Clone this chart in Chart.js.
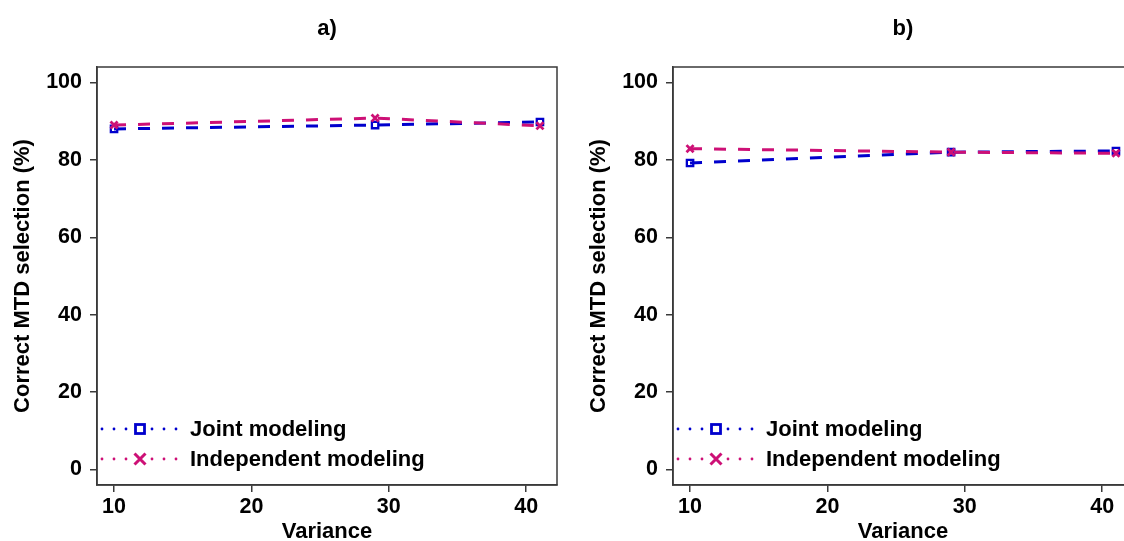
<!DOCTYPE html>
<html>
<head>
<meta charset="utf-8">
<script src="https://cdn.jsdelivr.net/npm/chart.js@4.4.1/dist/chart.umd.min.js"></script>
<style>
  html, body { margin: 0; padding: 0; background: #fff; overflow: hidden; width: 1124px; height: 541px; }
  #wrapA { position: absolute; left: 0; top: 0; width: 562px; height: 541px; }
  #wrapB { position: absolute; left: 562px; top: 0; width: 576px; height: 541px; }
</style>
</head>
<body>
<div id="wrapA"><canvas id="chartA" width="562" height="541"></canvas></div>
<div id="wrapB"><canvas id="chartB" width="576" height="541"></canvas></div>
<script>
// ---- data ----
const variance = [10, 29, 41];
const jointA = [88.0, 89.0, 89.8];
const indepA = [89.0, 90.8, 88.8];
const jointB = [79.2, 82.0, 82.3];
const indepB = [82.9, 82.0, 81.7];
const xTicks = [10, 20, 30, 40];
const yTicks = [0, 20, 40, 60, 80, 100];
const panelTitles = ['a)', 'b)'];
const seriesNames = ['Joint modeling', 'Independent modeling'];
const xTitle = 'Variance';
const yTitle = 'Correct MTD selection (%)';

const BLUE = '#0000CD';
const MAG = '#CD1076';
const AXIS = '#3a3a3a';
const FONT = '"Liberation Sans", Arial, Helvetica, sans-serif';

const decorPlugin = {
  id: 'decor',
  afterDraw(chart, args, opts) {
    const ctx = chart.ctx;
    const a = chart.chartArea;
    ctx.save();
    // box
    ctx.strokeStyle = AXIS;
    ctx.lineWidth = 1.5;
    ctx.strokeRect(a.left, a.top, a.right - a.left, a.bottom - a.top);
    // panel title
    ctx.fillStyle = '#000';
    ctx.font = 'bold 22px ' + FONT;
    ctx.textAlign = 'center';
    ctx.textBaseline = 'alphabetic';
    ctx.fillText(opts.title, (a.left + a.right) / 2, 35);
    // x title
    ctx.font = 'bold 22px ' + FONT;
    ctx.fillText(xTitle, (a.left + a.right) / 2, 538);
    // y title
    ctx.save();
    ctx.translate(opts.yTitleX, (a.top + a.bottom) / 2);
    ctx.rotate(-Math.PI / 2);
    ctx.fillText(yTitle, 0, 0);
    ctx.restore();
    // legend
    const rows = [
      { y: 429, color: BLUE, marker: 'rect', label: seriesNames[0] },
      { y: 459, color: MAG, marker: 'x', label: seriesNames[1] }
    ];
    rows.forEach(r => {
      ctx.fillStyle = r.color;
      [5, 17, 29, 55, 67, 79].forEach(o => {
        ctx.beginPath();
        ctx.arc(a.left + o, r.y, 1.4, 0, Math.PI * 2);
        ctx.fill();
      });
      const mx = a.left + 43;
      ctx.strokeStyle = r.color;
      if (r.marker === 'rect') {
        ctx.lineWidth = 2.8;
        ctx.strokeRect(mx - 4.5, r.y - 4.5, 9, 9);
      } else {
        ctx.lineWidth = 3;
        ctx.beginPath();
        ctx.moveTo(mx - 5.5, r.y - 5.5); ctx.lineTo(mx + 5.5, r.y + 5.5);
        ctx.moveTo(mx + 5.5, r.y - 5.5); ctx.lineTo(mx - 5.5, r.y + 5.5);
        ctx.stroke();
      }
      ctx.fillStyle = '#000';
      ctx.font = 'bold 22px ' + FONT;
      ctx.textAlign = 'left';
      ctx.textBaseline = 'middle';
      ctx.fillText(r.label, a.left + 93, r.y + 1);
    });
    ctx.restore();
  }
};

function makeChart(id, joint, indep, yAxisWidth, title, yTitleX) {
  const tickFont = { family: FONT, size: 21.5, weight: 'bold' };
  return new Chart(document.getElementById(id), {
    type: 'line',
    data: {
      datasets: [
        {
          label: seriesNames[0],
          data: variance.map((v, i) => ({ x: v, y: joint[i] })),
          borderColor: BLUE,
          borderWidth: 3,
          borderDash: [12, 12],
          pointStyle: 'rect',
          pointRadius: 4.5,
          pointBorderWidth: 2.3,
          pointBorderColor: BLUE,
          pointBackgroundColor: 'rgba(255,255,255,0)',
          fill: false,
          tension: 0,
          order: 1
        },
        {
          label: seriesNames[1],
          data: variance.map((v, i) => ({ x: v, y: indep[i] })),
          borderColor: MAG,
          borderWidth: 3,
          borderDash: [12, 12],
          pointStyle: 'crossRot',
          pointRadius: 5,
          pointBorderWidth: 2.8,
          pointBorderColor: MAG,
          fill: false,
          tension: 0,
          order: 0
        }
      ]
    },
    options: {
      responsive: false,
      animation: false,
      devicePixelRatio: 1,
      layout: { autoPadding: false, padding: { top: 67, right: 5, left: 0, bottom: 0 } },
      plugins: {
        legend: { display: false },
        tooltip: { enabled: false },
        title: { display: false },
        decor: { title: title, yTitleX: yTitleX }
      },
      scales: {
        x: {
          type: 'linear',
          min: 8.76,
          max: 42.24,
          afterBuildTicks: s => { s.ticks = xTicks.map(v => ({ value: v })); },
          afterFit: s => { s.height = 56; s.paddingLeft = 0; s.paddingRight = 0; },
          ticks: { font: tickFont, color: '#000', padding: 2, maxRotation: 0, autoSkip: false },
          grid: { display: true, drawOnChartArea: false, drawTicks: true, tickLength: 7, color: AXIS, lineWidth: 1.5 },
          border: { display: true, color: AXIS, width: 1.5 }
        },
        y: {
          type: 'linear',
          min: -4,
          max: 104,
          afterBuildTicks: s => { s.ticks = yTicks.map(v => ({ value: v })); },
          afterFit: s => { s.width = yAxisWidth; s.paddingTop = 0; s.paddingBottom = 0; },
          ticks: { font: tickFont, color: '#000', padding: 8, autoSkip: false },
          grid: { display: true, drawOnChartArea: false, drawTicks: true, tickLength: 7, color: AXIS, lineWidth: 1.5 },
          border: { display: true, color: AXIS, width: 1.5 }
        }
      }
    },
    plugins: [decorPlugin]
  });
}

makeChart('chartA', jointA, indepA, 97, panelTitles[0], 29);
makeChart('chartB', jointB, indepB, 111, panelTitles[1], 43);
</script>
</body>
</html>
